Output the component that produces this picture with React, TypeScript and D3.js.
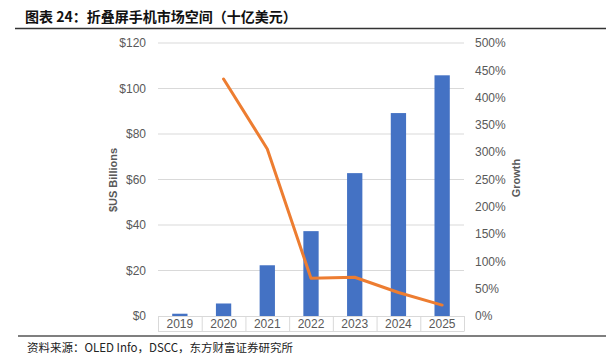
import React from "react";
import * as d3 from "d3";

const years = ["2019", "2020", "2021", "2022", "2023", "2024", "2025"];
const marketValues = [1, 5.5, 22.3, 37.3, 62.8, 89.2, 105.8];
const growthYears = ["2020", "2021", "2022", "2023", "2024", "2025"];
const growthValues = [4.34, 3.06, 0.69, 0.71, 0.43, 0.2];
const leftTicks = [0, 20, 40, 60, 80, 100, 120];
const rightTicks = [0, 0.5, 1, 1.5, 2, 2.5, 3, 3.5, 4, 4.5, 5];

const W = 609;
const H = 355;
const plot = { left: 158, right: 464, top: 43, bottom: 316 };

export default function App() {
  const x = d3
    .scaleBand<string>()
    .domain(years)
    .range([plot.left, plot.right])
    .paddingInner(0.65)
    .paddingOuter(0.325);
  const xOuter = d3.scaleBand<string>().domain(years).range([plot.left, plot.right]);
  const yL = d3.scaleLinear().domain([0, 120]).range([plot.bottom, plot.top]);
  const yR = d3.scaleLinear().domain([0, 5]).range([plot.bottom, plot.top]);

  const line = d3
    .line<number>()
    .x((_, i) => (x(growthYears[i]) as number) + x.bandwidth() / 2)
    .y((d) => yR(d));

  const grid = "#d9d9d9";
  const text = "#595959";
  const font = "'Liberation Sans', Arial, sans-serif";
  const cjk = "'Noto Sans CJK SC', sans-serif";

  return (
    <svg
      width={W}
      height={H}
      style={{ position: "absolute", left: 0, top: 0, background: "#fff" }}
    >
      <text x={25} y={22} fontFamily={cjk} fontSize={14} fontWeight="bold" fill="#111">
        图表 24：折叠屏手机市场空间（十亿美元）
      </text>
      <line x1={15} x2={606} y1={28.5} y2={28.5} stroke="#333" strokeWidth={1.5} />

      {leftTicks.map((t) => (
        <g key={"g" + t}>
          {t > 0 && (
            <line x1={plot.left} x2={plot.right} y1={yL(t)} y2={yL(t)} stroke={grid} strokeWidth={1} />
          )}
          <text
            x={146}
            y={yL(t)}
            dy="0.35em"
            textAnchor="end"
            fontFamily={font}
            fontSize={12}
            fill={text}
          >
            ${t}
          </text>
        </g>
      ))}
      {rightTicks.map((t) => (
        <text
          key={"r" + t}
          x={475}
          y={yR(t)}
          dy="0.35em"
          textAnchor="start"
          fontFamily={font}
          fontSize={12}
          fill={text}
        >
          {Math.round(t * 100)}%
        </text>
      ))}

      {years.map((yr, i) => (
        <rect
          key={yr}
          x={x(yr)}
          y={yL(marketValues[i])}
          width={x.bandwidth()}
          height={plot.bottom - yL(marketValues[i])}
          fill="#4472C4"
        />
      ))}

      <line x1={plot.left} x2={plot.right} y1={plot.bottom + 0.5} y2={plot.bottom + 0.5} stroke={grid} />
      <line x1={plot.left} x2={plot.right} y1={331.5} y2={331.5} stroke={grid} />
      {years.map((yr) => (
        <line
          key={"v" + yr}
          x1={(xOuter(yr) as number) + 0.5}
          x2={(xOuter(yr) as number) + 0.5}
          y1={plot.bottom}
          y2={331.5}
          stroke={grid}
        />
      ))}
      <line x1={plot.right + 0.5} x2={plot.right + 0.5} y1={plot.bottom} y2={331.5} stroke={grid} />
      {years.map((yr) => (
        <text
          key={"t" + yr}
          x={(xOuter(yr) as number) + xOuter.bandwidth() / 2}
          y={328}
          textAnchor="middle"
          fontFamily={font}
          fontSize={12}
          fill={text}
        >
          {yr}
        </text>
      ))}

      <path
        d={line(growthValues) || ""}
        fill="none"
        stroke="#ED7D31"
        strokeWidth={3}
        strokeLinejoin="round"
        strokeLinecap="round"
      />

      <text
        transform={`translate(117,180) rotate(-90)`}
        textAnchor="middle"
        fontFamily={font}
        fontSize={11}
        fontWeight="bold"
        fill={text}
      >
        $US Billions
      </text>
      <text
        transform={`translate(520,178) rotate(-90)`}
        textAnchor="middle"
        fontFamily={font}
        fontSize={11}
        fontWeight="bold"
        fill={text}
      >
        Growth
      </text>

      <line x1={18} x2={606} y1={336} y2={336} stroke="#555" strokeWidth={1.5} />
      <text x={27} y={352} fontFamily={cjk} fontSize={11.5} fill="#222">
        资料来源：OLED Info，DSCC，东方财富证券研究所
      </text>
    </svg>
  );
}
